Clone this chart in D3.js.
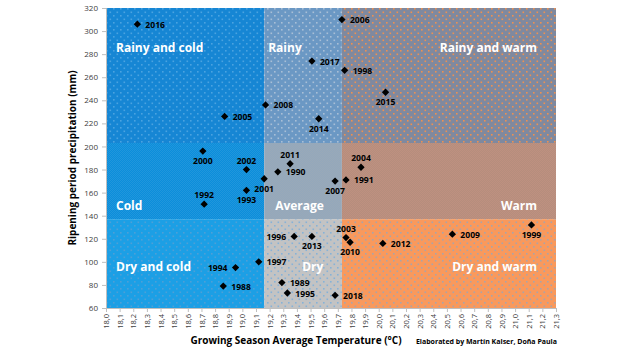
<!DOCTYPE html>
<html>
<head>
<meta charset="utf-8">
<script src="https://cdn.jsdelivr.net/npm/d3@7"></script>
<style>
  body { margin: 0; background: #fff; }
  svg { display: block; font-family: "Open Sans", sans-serif; }
</style>
</head>
<body>
<div id="vis"></div>
<script>
// vintages: growing season temperature vs ripening period rain
const years = ["2016", "2005", "2008", "2006", "2017", "1998", "2015", "2014",
  "2000", "2002", "2001", "1993", "1992", "1994", "1988", "1997",
  "2011", "1990", "2007", "1991", "2004", "1996", "2013", "2003",
  "2010", "2012", "1989", "1995", "2018", "2009", "1999"]
const temps = [18.23, 18.87, 19.17, 19.73, 19.51, 19.75, 20.05, 19.56,
  18.71, 19.03, 19.16, 19.03, 18.72, 18.95, 18.86, 19.12,
  19.35, 19.26, 19.68, 19.76, 19.87, 19.38, 19.51, 19.76,
  19.79, 20.03, 19.29, 19.33, 19.68, 20.54, 21.12]
const precips = [306, 226, 236, 310, 274, 266, 247, 224,
  196, 180, 172, 162, 150, 95, 79, 100,
  185, 178, 170, 171, 182, 122, 122, 121,
  117, 116, 82, 73, 71, 124, 132]

// limits between the groups
const tempCuts = [19.16, 19.73]
const precipCuts = [137, 203]

const rowNames = [
  ["Rainy and cold", "Rainy", "Rainy and warm"],
  ["Cold", "Average", "Warm"],
  ["Dry and cold", "Dry", "Dry and warm"]
]

const xTicks = d3.range(180, 214).map(d => d / 10)
const yTicks = d3.range(60, 321, 20)

const width = 624
const height = 350

const svg = d3.select("#vis")
  .append("svg")
  .attr("width", width)
  .attr("height", height)

const x = d3.scaleLinear().domain([18.0, 21.3]).range([106, 556])
const y = d3.scaleLinear().domain([60, 320]).range([308, 8])

// colours of the nine boxes, and of their dots
const fills = [
  ["#1686d4", "#6b98c4", "#7f899f"],
  ["#0b8edb", "#93a8bc", "#b58e7d"],
  ["#1c9fe5", "#c3c3c3", "#f9995c"]
]
const dots = [
  ["#4aa3e0", "#a9bfd6", "#ee9050"],
  ["#2196dc", "#9aa9b8", "#bf9080"],
  ["#4e9fd6", "#86b2d8", "#a8a4aa"]
]

const defs = svg.append("defs")
rowNames.forEach((row, r) => {
  row.forEach((name, c) => {
    const p = defs.append("pattern")
      .attr("id", `pat${r}${c}`)
      .attr("patternUnits", "userSpaceOnUse")
      .attr("width", r === 1 ? 2 : 7)
      .attr("height", r === 1 ? 2 : 7)
    if (r === 1) {
      p.append("rect").attr("width", 2).attr("height", 2).attr("fill", fills[r][c])
      p.append("rect").attr("width", 1).attr("height", 1).attr("fill", dots[r][c])
      p.append("rect").attr("x", 1).attr("y", 1).attr("width", 1).attr("height", 1).attr("fill", dots[r][c])
    } else {
      p.append("rect").attr("width", 7).attr("height", 7).attr("fill", fills[r][c])
      p.append("rect").attr("x", 1).attr("y", 1).attr("width", 1.6).attr("height", 1.6).attr("fill", dots[r][c])
      p.append("rect").attr("x", 4.5).attr("y", 4.5).attr("width", 1.6).attr("height", 1.6).attr("fill", dots[r][c])
    }
  })
})

const xEdges = [18.0, ...tempCuts, 21.3]
const yEdges = [320, ...precipCuts.slice().reverse(), 60]

const boxes = []
rowNames.forEach((row, r) => {
  row.forEach((name, c) => {
    boxes.push({ r, c, name, x0: xEdges[c], x1: xEdges[c + 1], y0: yEdges[r], y1: yEdges[r + 1] })
  })
})

svg.append("g").selectAll("rect")
  .data(boxes)
  .enter()
  .append("rect")
  .attr("x", d => x(d.x0))
  .attr("y", d => y(d.y0))
  .attr("width", d => x(d.x1) - x(d.x0))
  .attr("height", d => y(d.y1) - y(d.y0))
  .attr("fill", d => `url(#pat${d.r}${d.c})`)

// box names: left, middle(left) or right aligned, depending on column
const nameY = [52, 210, 271]
svg.append("g").selectAll("text")
  .data(boxes)
  .enter()
  .append("text")
  .attr("x", d => d.c === 0 ? x(d.x0) + 10 : d.c === 2 ? x(d.x1) - 19 : (d.r === 2 ? x(d.x0) + 38 : d.r === 1 ? x(d.x0) + 11 : x(d.x0) + 4))
  .attr("y", d => nameY[d.r])
  .attr("text-anchor", d => d.c === 2 ? "end" : "start")
  .attr("fill", "#fff")
  .attr("font-weight", "bold")
  .attr("font-size", 12)
  .text(d => d.name)

// axes
const xAxis = svg.append("g")
  .attr("transform", `translate(0, ${y(60)})`)
  .call(d3.axisBottom(x).tickValues(xTicks).tickSize(4).tickFormat(d => d3.format(".1f")(d).replace(".", ",")))
xAxis.select(".domain").attr("stroke", "#bfbfbf")
xAxis.selectAll(".tick line").attr("stroke", "#bfbfbf")
xAxis.selectAll(".tick text")
  .attr("transform", "rotate(-90)")
  .attr("text-anchor", "end")
  .attr("x", -6)
  .attr("y", 0)
  .attr("dy", "0.35em")
  .attr("font-size", 7.5)
  .attr("font-family", "Open Sans, sans-serif")
  .attr("fill", "#404040")

const yAxis = svg.append("g")
  .attr("transform", `translate(${x(18.0)}, 0)`)
  .call(d3.axisLeft(y).tickValues(yTicks).tickSize(4))
yAxis.select(".domain").attr("stroke", "#bfbfbf")
yAxis.selectAll(".tick line").attr("stroke", "#bfbfbf")
yAxis.selectAll(".tick text")
  .attr("x", -8)
  .attr("font-size", 8)
  .attr("font-family", "Open Sans, sans-serif")
  .attr("fill", "#404040")

// points
const points = years.map((yr, i) => ({ year: yr, t: temps[i], p: precips[i] }))

// where each year label goes around its point
const below = ["2015", "2014", "2000", "2001", "1993", "2007", "2013", "2010", "1999"]
const above = ["2002", "1992", "2011", "2004", "2003"]
const left = ["1994", "1996"]

svg.append("g").selectAll("path")
  .data(points)
  .enter()
  .append("path")
  .attr("d", d3.symbol(d3.symbolDiamond2, 34))
  .attr("transform", d => `translate(${x(d.t)}, ${y(d.p)})`)
  .attr("fill", "#000")

svg.append("g").selectAll("text")
  .data(points)
  .enter()
  .append("text")
  .attr("x", d => {
    if (below.includes(d.year) || above.includes(d.year)) return x(d.t)
    if (left.includes(d.year)) return x(d.t) - 8
    return x(d.t) + 8
  })
  .attr("y", d => {
    if (below.includes(d.year)) return y(d.p) + 13
    if (above.includes(d.year)) return y(d.p) - 6
    return y(d.p) + 3.5
  })
  .attr("text-anchor", d => below.includes(d.year) || above.includes(d.year) ? "middle" : left.includes(d.year) ? "end" : "start")
  .attr("font-size", 8.6)
  .attr("font-weight", "bold")
  .attr("fill", "#000")
  .text(d => d.year)

// titles
svg.append("text")
  .attr("transform", `translate(76, ${y(190)}) rotate(-90)`)
  .attr("text-anchor", "middle")
  .attr("font-size", 10)
  .attr("font-weight", "bold")
  .attr("fill", "#000")
  .text("Ripening period precipitation (mm)")

svg.append("text")
  .attr("x", 296)
  .attr("y", 344)
  .attr("text-anchor", "middle")
  .attr("font-size", 10)
  .attr("font-weight", "bold")
  .attr("fill", "#000")
  .text("Growing Season Average Temperature (°C)")

svg.append("text")
  .attr("x", 557)
  .attr("y", 344)
  .attr("text-anchor", "end")
  .attr("font-size", 7)
  .attr("font-weight", "bold")
  .attr("fill", "#000")
  .text("Elaborated by Martín Kaiser, Doña Paula")
</script>
</body>
</html>
